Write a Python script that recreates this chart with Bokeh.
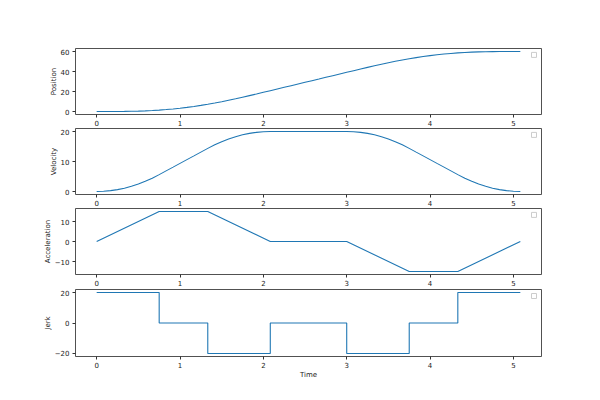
from bokeh.plotting import figure
from bokeh.layouts import column
from bokeh.models import Range1d, CustomJSTickFormatter
from bokeh.embed import file_html
from bokeh.resources import INLINE

# ---- data ----
time = [0, 0.083, 0.167, 0.25, 0.333, 0.417, 0.5, 0.583, 0.667, 0.75,
        0.833, 0.917, 1.0, 1.083, 1.167, 1.25, 1.333,
        1.417, 1.5, 1.583, 1.667, 1.75, 1.833, 1.917, 2.0, 2.083,
        2.167, 2.25, 2.333, 2.417, 2.5, 2.583, 2.667, 2.75, 2.833, 2.917, 3.0,
        3.083, 3.167, 3.25, 3.333, 3.417, 3.5, 3.583, 3.667, 3.75,
        3.833, 3.917, 4.0, 4.083, 4.167, 4.25, 4.333,
        4.417, 4.5, 4.583, 4.667, 4.75, 4.833, 4.917, 5.0, 5.083]

position = [0, 0.002, 0.015, 0.052, 0.123, 0.241, 0.417, 0.662, 0.988, 1.406,
            1.927, 2.552, 3.281, 4.115, 5.052, 6.094, 7.240,
            8.488, 9.828, 11.25, 12.741, 14.29, 15.885, 17.515, 19.169, 20.833,
            22.5, 24.167, 25.833, 27.5, 29.167, 30.833, 32.5, 34.167, 35.833, 37.5, 39.167,
            40.831, 42.485, 44.115, 45.71, 47.259, 48.75, 50.172, 51.512, 52.76,
            53.906, 54.948, 55.885, 56.719, 57.448, 58.073, 58.594,
            59.012, 59.338, 59.583, 59.759, 59.877, 59.948, 59.985, 59.998, 60]

velocity = [0, 0.069, 0.278, 0.625, 1.111, 1.736, 2.5, 3.403, 4.444, 5.625,
            6.875, 8.125, 9.375, 10.625, 11.875, 13.125, 14.375,
            15.556, 16.597, 17.5, 18.264, 18.889, 19.375, 19.722, 19.931, 20,
            20, 20, 20, 20, 20, 20, 20, 20, 20, 20, 20,
            19.931, 19.722, 19.375, 18.889, 18.264, 17.5, 16.597, 15.556, 14.375,
            13.125, 11.875, 10.625, 9.375, 8.125, 6.875, 5.625,
            4.444, 3.403, 2.5, 1.736, 1.111, 0.625, 0.278, 0.069, 0]

phase_time = [0, 0.75, 1.333, 2.083, 3.0, 3.75, 4.333, 5.083]
acceleration = [0, 15, 15, 0, 0, -15, -15, 0]
jerk = [20, 0, -20, 0, -20, 0, 20, 20]

pos_ticks = [0, 20, 40, 60]
vel_ticks = [0, 10, 20]
acc_ticks = [-10, 0, 10]
jerk_ticks = [-20, 0, 20]
x_ticks = [0, 1, 2, 3, 4, 5]

LINE = "#1f77b4"
FONT = "DejaVu Sans"
X0, X1 = -0.254, 5.337
LEFT, RIGHT, WIDTH = 75, 51, 592
FRAME_W = WIDTH - LEFT - RIGHT

minus_fmt = "return String(tick).replace('-', '\\u2212');"


def make(yr, yticks, ylabel, height, top, bottom, xlabel=None):
    p = figure(width=WIDTH, height=height,
               x_range=Range1d(X0, X1), y_range=Range1d(*yr),
               output_backend="svg", toolbar_location=None,
               min_border_left=LEFT, min_border_right=RIGHT,
               min_border_top=top, min_border_bottom=bottom)
    p.grid.visible = False
    p.outline_line_color = "#333333"
    p.outline_line_width = 1
    p.outline_line_alpha = 0.85
    p.background_fill_color = "white"
    p.border_fill_color = "white"
    for ax in (p.xaxis[0], p.yaxis[0]):
        ax.axis_line_color = None
        ax.major_tick_line_color = "#333333"
        ax.major_tick_out = 3
        ax.major_tick_in = 0
        ax.minor_tick_line_color = None
        ax.major_label_text_font = FONT
        ax.major_label_text_font_size = "7px"
        ax.major_label_text_color = "#222222"
        ax.axis_label_text_font = FONT
        ax.axis_label_text_font_size = "7px"
        ax.axis_label_text_font_style = "normal"
        ax.axis_label_text_color = "#222222"
        ax.formatter = CustomJSTickFormatter(code=minus_fmt)
    p.xaxis.ticker = x_ticks
    p.yaxis.ticker = yticks
    p.xaxis.major_label_standoff = 2
    p.yaxis.major_label_standoff = 3
    p.yaxis.axis_label = ylabel
    p.yaxis.axis_label_standoff = 0
    if xlabel:
        p.xaxis.axis_label = xlabel
        p.xaxis.axis_label_standoff = 0
    # empty legend box (top-right corner of the frame)
    fh = height - top - bottom
    cx = X1 - 7.5 * (X1 - X0) / FRAME_W
    cy = yr[1] - 6.5 * (yr[1] - yr[0]) / fh
    p.rect(x=[cx], y=[cy], width=5, height=5, width_units="screen",
           height_units="screen", fill_color="white", line_color="#cccccc",
           line_width=1)
    return p


p1 = make((-3, 63), pos_ticks, "Position", 128, 48, 13)
p1.line(time, position, line_color=LINE, line_width=1.1)

p2 = make((-1, 21), vel_ticks, "Velocity", 80, 0, 13)
p2.line(time, velocity, line_color=LINE, line_width=1.1)

p3 = make((-16.5, 16.5), acc_ticks, "Acceleration", 80, 0, 13)
p3.line(phase_time, acceleration, line_color=LINE, line_width=1.1)

p4 = make((-22, 22), jerk_ticks, "Jerk", 104, 1, 36, xlabel="Time")
p4.step(phase_time, jerk, mode="after", line_color=LINE, line_width=1.1)

layout = column(p1, p2, p3, p4, spacing=0)

open("out.html", "w").write(file_html(layout, INLINE))
